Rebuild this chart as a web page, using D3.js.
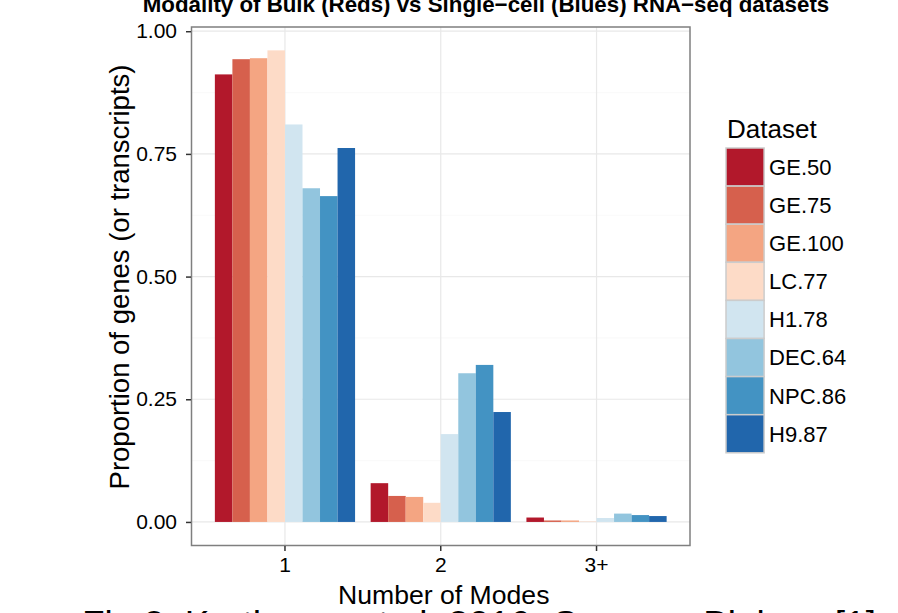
<!DOCTYPE html>
<html>
<head>
<meta charset="utf-8">
<script src="https://cdn.jsdelivr.net/npm/d3@7"></script>
<style>
    body { margin: 0; background: #ffffff; overflow: hidden; }
    svg { display: block; font-family: "Liberation Sans", Arial, sans-serif; }
</style>
</head>
<body>
<div id="wrapper"></div>
<script>
// data
const modes = ["1", "2", "3+"];
const datasets = ["GE.50", "GE.75", "GE.100", "LC.77", "H1.78", "DEC.64", "NPC.86", "H9.87"];
const datasetColors = ["#B2182B", "#D6604D", "#F4A582", "#FDDBC7", "#D1E5F0", "#92C5DE", "#4393C3", "#2166AC"];

const modeOneValues = [0.912, 0.943, 0.945, 0.961, 0.810, 0.680, 0.664, 0.762];
const modeTwoValues = [0.079, 0.053, 0.051, 0.039, 0.179, 0.303, 0.320, 0.224];
const modeThreeValues = [0.009, 0.003, 0.003, 0.001, 0.008, 0.017, 0.014, 0.012];

const yTicks = [0, 0.25, 0.5, 0.75, 1];
const yMinorTicks = [0.125, 0.375, 0.625, 0.875];

const chartTitle = "Modality of Bulk (Reds) vs Single\u2212cell (Blues) RNA\u2212seq datasets";
const xTitle = "Number of Modes";
const yTitle = "Proportion of genes (or transcripts)";
const legendTitle = "Dataset";
const caption = "Fig 3: Korthauer et al. 2016, Genome Biology [1]";


function modalityChart(parent) {

    const wsvg = 898;
    const hsvg = 613;

    // panel edges
    const left = 191.5;
    const right = 690;
    const top = 27;
    const bottom = 545.5;

    const rows = [];
    [modeOneValues, modeTwoValues, modeThreeValues].forEach((values, i) => {
        values.forEach((v, j) => {
            rows.push({ mode: modes[i], dataset: datasets[j], value: v });
        });
    });

    const svg = d3.select(parent).append("svg")
        .attr("width", wsvg)
        .attr("height", hsvg)
        .attr("viewBox", `0 0 ${wsvg} ${hsvg}`);

    svg.append("rect")
        .attr("width", wsvg)
        .attr("height", hsvg)
        .attr("fill", "#ffffff");

    const xScale = d3.scaleBand(modes, [left, right])
        .paddingInner(0.1)
        .paddingOuter(0.15);

    const xInner = d3.scaleBand(datasets, [0, xScale.bandwidth()]);

    const yScale = d3.scaleLinear([-0.048, 1.0086], [bottom, top]);

    const color = d3.scaleOrdinal(datasets, datasetColors);

    // GRID
    const grid = svg.append("g");

    grid.selectAll(".minor")
        .data(yMinorTicks)
        .join("line")
        .attr("x1", left).attr("x2", right)
        .attr("y1", d => yScale(d)).attr("y2", d => yScale(d))
        .attr("stroke", "#fafafa")
        .attr("stroke-width", 1.2);

    grid.selectAll(".major")
        .data(yTicks)
        .join("line")
        .attr("x1", left).attr("x2", right)
        .attr("y1", d => yScale(d)).attr("y2", d => yScale(d))
        .attr("stroke", "#e8e8e8")
        .attr("stroke-width", 1.2);

    grid.selectAll(".vmajor")
        .data(modes)
        .join("line")
        .attr("x1", d => xScale(d) + xScale.bandwidth() / 2)
        .attr("x2", d => xScale(d) + xScale.bandwidth() / 2)
        .attr("y1", top).attr("y2", bottom)
        .attr("stroke", "#e8e8e8")
        .attr("stroke-width", 1.2);

    // BARS
    svg.append("g")
        .selectAll("rect")
        .data(rows)
        .join("rect")
        .attr("x", d => xScale(d.mode) + xInner(d.dataset))
        .attr("y", d => yScale(d.value))
        .attr("width", xInner.bandwidth())
        .attr("height", d => yScale(0) - yScale(d.value))
        .attr("fill", d => color(d.dataset));

    // panel border
    svg.append("rect")
        .attr("x", left)
        .attr("y", top)
        .attr("width", right - left)
        .attr("height", bottom - top)
        .attr("fill", "none")
        .attr("stroke", "#7f7f7f")
        .attr("stroke-width", 1.5);

    // AXES
    const yAxis = d3.axisLeft(yScale)
        .tickValues(yTicks)
        .tickFormat(d3.format(".2f"))
        .tickSize(5)
        .tickPadding(9);

    const xAxis = d3.axisBottom(xScale)
        .tickSize(5)
        .tickPadding(6);

    const yAxisGroup = svg.append("g")
        .attr("transform", `translate(${left - 0.5}, 0)`)
        .call(yAxis);

    const xAxisGroup = svg.append("g")
        .attr("transform", `translate(0, ${bottom + 0.5})`)
        .call(xAxis);

    [yAxisGroup, xAxisGroup].forEach(g => {
        g.select(".domain").remove();
        g.selectAll(".tick line").attr("stroke", "#333333").attr("stroke-width", 1.5);
        g.selectAll(".tick text")
            .attr("fill", "#000000")
            .style("font-size", "21px")
            .style("font-family", "Liberation Sans, Arial, sans-serif");
    });

    // TITLES
    svg.append("text")
        .attr("x", 486)
        .attr("y", 12)
        .attr("text-anchor", "middle")
        .style("font-size", "22.3px")
        .style("font-weight", "bold")
        .text(chartTitle);

    svg.append("text")
        .attr("x", (left + right) / 2 + 3)
        .attr("y", 604)
        .attr("text-anchor", "middle")
        .style("font-size", "26.6px")
        .text(xTitle);

    svg.append("text")
        .attr("transform", "translate(129, 277) rotate(-90)")
        .attr("text-anchor", "middle")
        .style("font-size", "27.5px")
        .text(yTitle);

    // LEGEND
    const legend = svg.append("g")
        .attr("transform", "translate(726, 148)");

    legend.append("text")
        .attr("x", 1)
        .attr("y", -10)
        .style("font-size", "26px")
        .text(legendTitle);

    const keySize = 38.1;

    const keys = legend.selectAll(".key")
        .data(datasets)
        .join("g")
        .attr("transform", (d, i) => `translate(0, ${i * keySize})`);

    keys.append("rect")
        .attr("x", 0)
        .attr("y", 0)
        .attr("width", keySize)
        .attr("height", keySize)
        .attr("fill", d => color(d))
        .attr("stroke", "#cccccc")
        .attr("stroke-width", 1.5);

    keys.append("text")
        .attr("x", keySize + 5)
        .attr("y", keySize / 2)
        .attr("dy", "0.36em")
        .style("font-size", "22px")
        .text(d => d);

    // caption under the figure, cut by the window edge
    svg.append("text")
        .attr("x", 82)
        .attr("y", 637)
        .style("font-size", "37px")
        .text(caption);
}

modalityChart(document.querySelector("#wrapper"));
</script>
</body>
</html>
